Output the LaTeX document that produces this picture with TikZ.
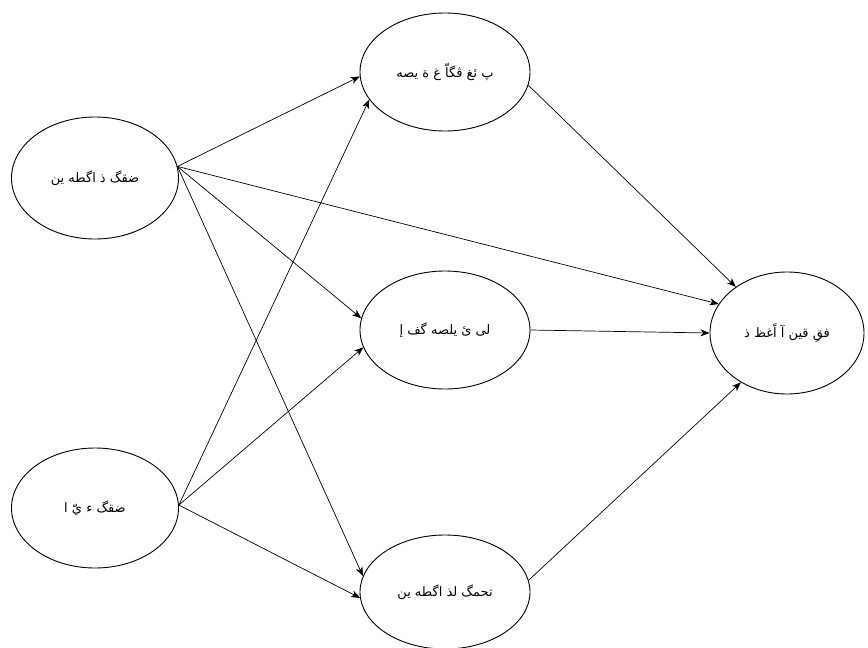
\documentclass[tikz,border=0pt]{standalone}
\usepackage{fontspec}
\usetikzlibrary{shapes.geometric,arrows.meta}
\TeXXeTstate=1
\newfontfamily\arabicfont[Script=Arabic]{DejaVu Sans}
\begin{document}
\begin{tikzpicture}[x=1pt,y=-1pt,
  oval/.style={ellipse,draw,line width=0.9pt,inner sep=0pt,font=\arabicfont\fontsize{13}{15}\selectfont},
  link/.style={draw,line width=0.7pt,-{Stealth[length=9pt,width=7pt,inset=2.5pt]}}]
\useasboundingbox (0,0) rectangle (868,648);
\node[oval,minimum width=167pt,minimum height=122pt] (A) at (95,178) {\beginR ضقگ ذ اگطه ين\endR};
\node[oval,minimum width=167pt,minimum height=120pt] (B) at (95,508) {\beginR ضقگ ء يّ ا\endR};
\node[oval,minimum width=170pt,minimum height=118pt] (C) at (445,72) {\beginR پ ئغ ڤگاّ غ ة يصه\endR};
\node[oval,minimum width=170pt,minimum height=118pt] (D) at (445,330) {\beginR لی ئ يلصه گف إ\endR};
\node[oval,minimum width=170pt,minimum height=114pt] (E) at (445,592) {\beginR تحمگ لذ اگطه ين\endR};
\node[oval,minimum width=154pt,minimum height=122pt] (F) at (787,333) {\beginR فقِ قين آ اًغظ ذ\endR};
\draw[link] (A.8) -- (C.183);
\draw[link] (A.8) -- (D.172);
\draw[link] (A.8) -- (E.169);
\draw[link] (A.8) -- (F.157);
\draw[link] (B.2) -- (C.200);
\draw[link] (B.2) -- (D.192);
\draw[link] (B.2) -- (E.184);
\draw[link] (C.-9) -- (F.138);
\draw[link] (D.0) -- (F.180);
\draw[link] (E.8) -- (F.227);
\end{tikzpicture}
\end{document}
